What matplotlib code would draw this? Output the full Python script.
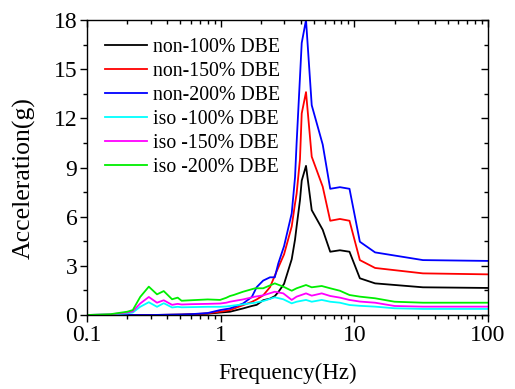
import matplotlib
matplotlib.use("Agg")
import matplotlib.pyplot as plt
from matplotlib.ticker import MultipleLocator, LogLocator, NullFormatter, FixedLocator, FixedFormatter

plt.rcParams['font.family'] = ['Liberation Serif', 'DejaVu Serif']

freq_non = [0.1, 0.3, 0.5, 0.6, 0.8, 0.99, 1.175, 1.47, 1.71, 1.86, 2.08, 2.34, 2.54, 2.7,
            2.98, 3.4, 3.6, 3.7, 3.92, 4.04, 4.35, 4.8, 5.8, 6.6, 7.8, 9.2, 11, 14.3, 32.6, 100]
non_100 = [0, 0, 0.02, 0.04, 0.08, 0.15, 0.2, 0.4, 0.55, 0.62, 0.9, 1.0, 1.15, 1.4,
           1.9, 3.4, 4.6, 5.4, 7.0, 8.2, 9.1, 6.4, 5.2, 3.86, 3.95, 3.86, 2.24, 1.93, 1.69, 1.65]
non_150 = [0, 0, 0.02, 0.04, 0.1, 0.2, 0.3, 0.6, 0.8, 0.95, 1.2, 1.7, 2.4, 2.9,
           3.7, 5.4, 6.8, 7.4, 9.5, 12.3, 13.6, 9.66, 7.83, 5.75, 5.86, 5.75, 3.35, 2.87, 2.54, 2.48]
non_200 = [0, 0, 0.03, 0.05, 0.12, 0.3, 0.4, 0.7, 1.1, 1.7, 2.1, 2.3, 2.3, 3.15,
           4.2, 6.2, 8.4, 10.5, 14.5, 16.6, 18.0, 12.8, 10.4, 7.7, 7.8, 7.7, 4.47, 3.82, 3.35, 3.3]

freq_iso = [0.1, 0.15, 0.2, 0.22, 0.25, 0.29, 0.334, 0.375, 0.433, 0.477, 0.51, 0.6, 0.8,
            0.99, 1.1, 1.175, 1.25, 1.47, 1.81, 2.08, 2.54, 2.94, 3.4, 3.7, 4.35, 4.8,
            5.7, 6.6, 7.8, 9.2, 11, 14.3, 20, 32.6, 100]
iso_200 = [0, 0.05, 0.2, 0.3, 1.1, 1.73, 1.26, 1.46, 0.96, 1.06, 0.87, 0.9, 0.95,
           0.92, 1.05, 1.16, 1.22, 1.42, 1.63, 1.63, 1.93, 1.73, 1.48, 1.63, 1.83, 1.69,
           1.77, 1.63, 1.48, 1.22, 1.12, 1.02, 0.81, 0.75, 0.75]
iso_150 = [0, 0.04, 0.15, 0.22, 0.7, 1.1, 0.75, 0.9, 0.62, 0.68, 0.64, 0.66, 0.68,
           0.7, 0.75, 0.81, 0.85, 0.95, 1.12, 1.2, 1.42, 1.32, 0.92, 1.12, 1.32, 1.18,
           1.32, 1.16, 1.06, 0.92, 0.82, 0.75, 0.55, 0.51, 0.51]
iso_100 = [0, 0.03, 0.1, 0.15, 0.5, 0.78, 0.5, 0.72, 0.46, 0.5, 0.47, 0.48, 0.5,
           0.5, 0.52, 0.55, 0.58, 0.65, 0.75, 0.85, 1.08, 0.96, 0.71, 0.81, 0.92, 0.81,
           0.92, 0.81, 0.75, 0.61, 0.56, 0.51, 0.41, 0.37, 0.37]

series = [
    (freq_non, non_100, 'black', 'non-100% DBE'),
    (freq_non, non_150, 'red', 'non-150% DBE'),
    (freq_non, non_200, 'blue', 'non-200% DBE'),
    (freq_iso, iso_100, 'cyan', 'iso -100% DBE'),
    (freq_iso, iso_150, 'magenta', 'iso -150% DBE'),
    (freq_iso, iso_200, '#00ee00', 'iso -200% DBE'),
]

fig = plt.figure(figsize=(5.15, 3.89), dpi=100)
ax = fig.add_axes([87/515, 1-315/389, (488-87)/515, (315-20)/389])

for f, v, c, lab in series:
    ax.plot(f, v, color=c, lw=1.3, label=lab)

ax.set_xscale('log')
ax.set_xlim(0.1, 100)
ax.set_ylim(0, 18)
ax.xaxis.set_major_locator(FixedLocator([0.1, 1, 10, 100]))
ax.xaxis.set_major_formatter(FixedFormatter(['0.1', '1', '10', '100']))
ax.xaxis.set_minor_locator(LogLocator(base=10, subs=range(2, 10)))
ax.xaxis.set_minor_formatter(NullFormatter())
ax.yaxis.set_major_locator(MultipleLocator(3))
ax.yaxis.set_minor_locator(MultipleLocator(1.5))

ax.tick_params(axis='both', which='major', direction='out', length=5, width=1,
               labelsize=17, pad=2)
ax.tick_params(axis='both', which='minor', direction='out', length=3, width=1)
ax.tick_params(top=True, right=True, which='both')
for t in ax.xaxis.get_major_ticks() + ax.xaxis.get_minor_ticks():
    t.tick2line.set_marker(matplotlib.lines.TICKDOWN)
for t in ax.yaxis.get_major_ticks() + ax.yaxis.get_minor_ticks():
    t.tick2line.set_marker(matplotlib.lines.TICKLEFT)

for s in ax.spines.values():
    s.set_linewidth(1.0)

ax.set_xlabel('Frequency(Hz)', fontsize=16.5, labelpad=12)
ax.set_ylabel('Acceleration(g)', fontsize=18.5)
ax.yaxis.set_label_coords(-0.128, 0.465)

leg = ax.legend(loc='upper left', frameon=False, fontsize=14.3,
                handlelength=2.1, handletextpad=0.3, labelspacing=0.25,
                borderaxespad=0.0, bbox_to_anchor=(0.025, 0.965))

fig.savefig('out.png', dpi=100)
